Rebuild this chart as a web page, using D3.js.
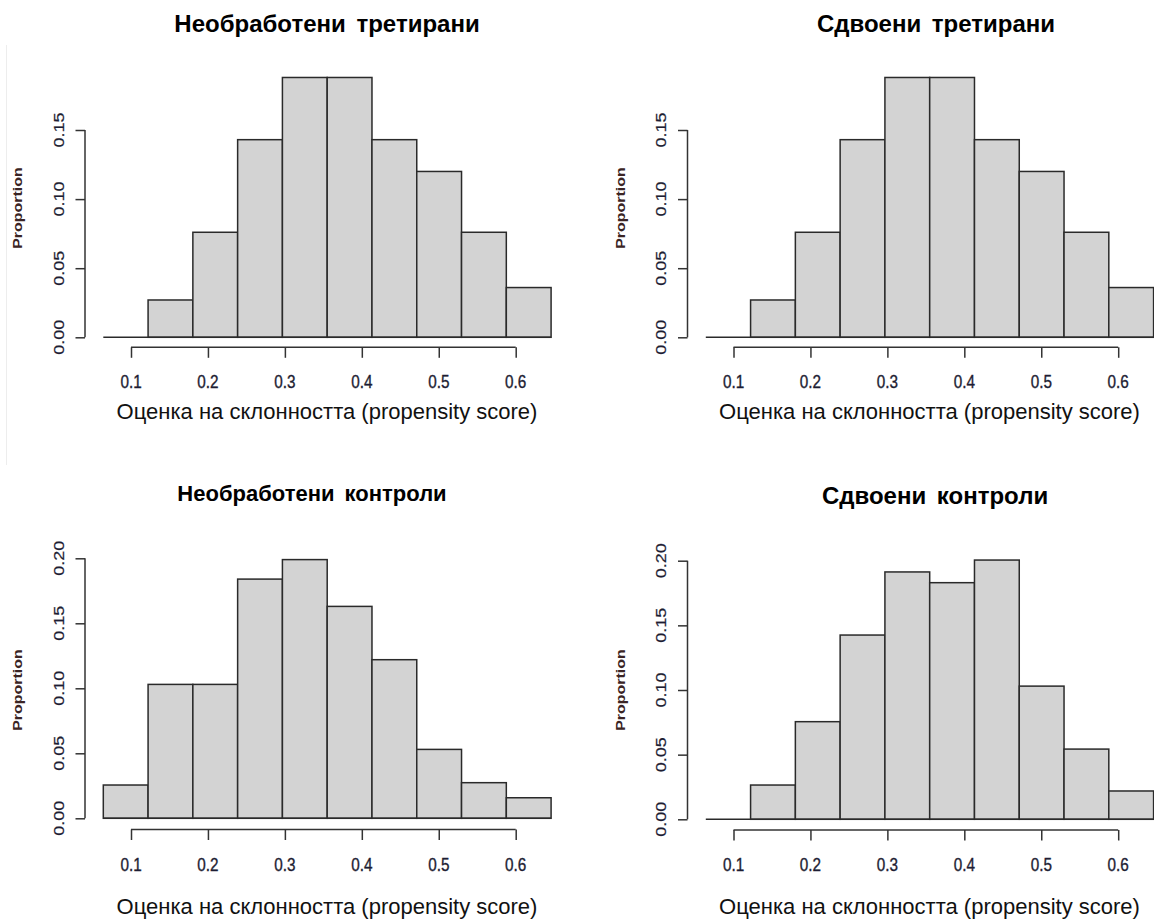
<!DOCTYPE html>
<html>
<head>
<meta charset="utf-8">
<script src="https://cdn.jsdelivr.net/npm/d3@7"></script>
<style>
  html, body { margin: 0; padding: 0; background: #fff; }
  svg { display: block; }
  text { font-family: "Liberation Sans", Arial, sans-serif; }
</style>
</head>
<body>
<svg id="chart" width="1154" height="924"></svg>
<script>
// ---------------- DATA ----------------
const binEdges = [0.064, 0.1222, 0.1804, 0.2386, 0.2968, 0.355, 0.4132, 0.4714, 0.5296, 0.5878, 0.646];
const unmatchedTreated = [0, 0.027, 0.076, 0.143, 0.188, 0.188, 0.143, 0.120, 0.076, 0.036];
const matchedTreated   = [0, 0.027, 0.076, 0.143, 0.188, 0.188, 0.143, 0.120, 0.076, 0.036];
const unmatchedControl = [0.0256, 0.103, 0.103, 0.184, 0.199, 0.163, 0.122, 0.053, 0.0274, 0.0158];
const matchedControl   = [0, 0.0265, 0.0755, 0.1425, 0.1913, 0.183, 0.2005, 0.103, 0.0543, 0.0219];
const xTicks = [0.1, 0.2, 0.3, 0.4, 0.5, 0.6];
const yTicksTop = [0, 0.05, 0.10, 0.15];
const yTicksBottom = [0, 0.05, 0.10, 0.15, 0.20];
const titles = ["Необработени третирани", "Сдвоени третирани", "Необработени контроли", "Сдвоени контроли"];
const xLabel = "Оценка на склонността (propensity score)";
const yLabel = "Proportion";

// ---------------- LAYOUT ----------------
const SX = 0.85; // horizontal squeeze of tick-label text in the original
const layout = [
  { values: unmatchedTreated, yTicks: yTicksTop, dx: 0,     yBase: 337.3, yTopVal: 0.15, yTopPx: 130,   axisY: 347.3, xLabOff: 72, yLabY: 208, titleX: 327, titleY: 32, titleSize: 24 },
  { values: matchedTreated,   yTicks: yTicksTop, dx: 602.5, yBase: 337.3, yTopVal: 0.15, yTopPx: 130,   axisY: 347.3, xLabOff: 72, yLabY: 208, titleX: 936, titleY: 32, titleSize: 24 },
  { values: unmatchedControl, yTicks: yTicksBottom, dx: 0,     yBase: 818.3, yTopVal: 0.20, yTopPx: 558.3, axisY: 829.5, xLabOff: 84, yLabY: 690, titleX: 312, titleY: 501, titleSize: 22 },
  { values: matchedControl,   yTicks: yTicksBottom, dx: 602.5, yBase: 819.3, yTopVal: 0.20, yTopPx: 560.7, axisY: 830,   xLabOff: 84, yLabY: 690, titleX: 935, titleY: 504, titleSize: 24 }
];

const svg = d3.select("#chart");

// faint left border seen in the original
svg.append("line").attr("x1", 6.5).attr("x2", 6.5).attr("y1", 45).attr("y2", 465)
  .attr("stroke", "#ededed").attr("stroke-width", 1);

function htext(g, x, y, str, size, weight, anchor, fill, sx) {
  return g.append("text")
    .attr("transform", `translate(${x},${y}) scale(${sx == null ? 1 : sx},1)`)
    .attr("text-anchor", anchor || "middle")
    .attr("font-size", size)
    .attr("font-weight", weight || "normal")
    .attr("fill", fill || "#111")
    .text(str);
}
function vtext(g, x, y, str, size, weight, fill, sx) {
  return g.append("text")
    .attr("transform", `translate(${x},${y}) scale(${sx == null ? 1 : sx},1) rotate(-90)`)
    .attr("text-anchor", "middle")
    .attr("font-size", size)
    .attr("font-weight", weight || "normal")
    .attr("fill", fill || "#111")
    .text(str);
}

layout.forEach((p, i) => {
  const g = svg.append("g");
  const x = d3.scaleLinear().domain([0.1, 0.6]).range([131 + p.dx, 515.7 + p.dx]);
  const y = d3.scaleLinear().domain([0, p.yTopVal]).range([p.yBase, p.yTopPx]);
  const axisX = 85 + p.dx;

  // bars
  const bins = p.values.map((v, k) => ({ x0: binEdges[k], x1: binEdges[k + 1], v }));
  g.selectAll("rect.bar").data(bins.filter(d => d.v > 0)).enter().append("rect")
    .attr("class", "bar")
    .attr("x", d => x(d.x0))
    .attr("width", d => x(d.x1) - x(d.x0))
    .attr("y", d => y(d.v))
    .attr("height", d => y(0) - y(d.v))
    .attr("fill", "#d3d3d3")
    .attr("stroke", "#2a2a2a")
    .attr("stroke-width", 1.5);
  // baseline across all bins (visible under empty bins)
  g.append("line")
    .attr("x1", x(binEdges[0])).attr("x2", x(binEdges[binEdges.length - 1]))
    .attr("y1", y(0)).attr("y2", y(0))
    .attr("stroke", "#2a2a2a").attr("stroke-width", 1.5);

  // x axis (R style: line from first to last tick, ticks down)
  const xAxis = d3.axisBottom(x).tickValues(xTicks).tickSize(10.5).tickSizeOuter(0).tickFormat("");
  const xg = g.append("g").attr("transform", `translate(0,${p.axisY})`).call(xAxis);
  xg.select(".domain").attr("d", `M${x(xTicks[0])},0H${x(xTicks[xTicks.length - 1])}`);
  xg.selectAll("path, line").attr("stroke", "#333").attr("stroke-width", 1.5);
  xTicks.forEach(t => htext(g, x(t), p.axisY + 41, d3.format(".1f")(t), 18, "normal", "middle", "#1d1d33", SX)
    .attr("stroke", "#1d1d33").attr("stroke-width", 0.35));
  htext(g, (axisX + 569 + p.dx) / 2, p.axisY + p.xLabOff, xLabel, 22, "normal", "middle", "#111", 1);

  // y axis
  const yAxis = d3.axisLeft(y).tickValues(p.yTicks).tickSize(9.5).tickSizeOuter(0).tickFormat("");
  const yg = g.append("g").attr("transform", `translate(${axisX},0)`).call(yAxis);
  yg.select(".domain").attr("d", `M0,${y(p.yTicks[0])}V${y(p.yTicks[p.yTicks.length - 1])}`);
  yg.selectAll("path, line").attr("stroke", "#333").attr("stroke-width", 1.5);
  p.yTicks.forEach(t => vtext(g, axisX - 21.5, y(t), d3.format(".2f")(t), 18, "normal", "#1d1d33", SX)
    .attr("stroke", "#1d1d33").attr("stroke-width", 0.25));
  vtext(g, axisX - 63, p.yLabY, yLabel, 16, "bold", "#3a2424", 0.85);

  // title
  htext(g, p.titleX, p.titleY, titles[i], p.titleSize, "bold", "middle", "#000", 1)
    .attr("word-spacing", 4);
});
</script>
</body>
</html>
